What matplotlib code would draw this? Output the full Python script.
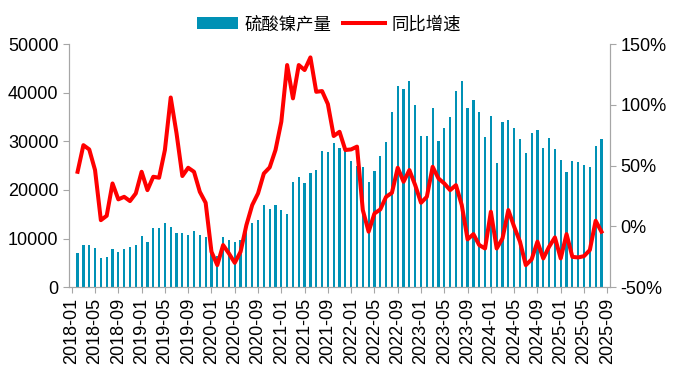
import numpy as np
import pandas as pd
import matplotlib
matplotlib.use('Agg')
import matplotlib.pyplot as plt
from matplotlib.ticker import FuncFormatter

plt.rcParams['font.family'] = ['Liberation Sans', 'Noto Sans CJK SC', 'DejaVu Sans']

# monthly axis 2018-01 .. 2025-09, data from 2018-02 .. 2025-08
months = pd.date_range('2018-01-01', '2025-09-01', freq='MS').strftime('%Y-%m').tolist()

production = [7100, 8600, 8600, 8100, 6000, 6200, 7800, 7200, 7800, 8200,
              8600, 10500, 9300, 12100, 12100, 13200, 12400, 11100, 11100, 10700,
              11500, 10700, 10300, 8200, 6400, 10300, 9700, 9300, 9700, 11300,
              13200, 13800, 16900, 16000, 16900, 15800, 15000, 21600, 22600, 21400,
              23500, 24100, 28000, 27800, 29600, 28600, 28200, 25900, 24900, 24700,
              21600, 23900, 27000, 29800, 36000, 41400, 40700, 42400, 37500, 31100,
              31100, 36800, 30000, 32700, 35000, 40300, 42400, 36800, 38500, 36000,
              30900, 35200, 25500, 34000, 34400, 32700, 30500, 27600, 31700, 32300,
              28600, 30700, 28400, 26100, 23700, 25900, 25700, 25100, 24700, 29000, 30500]

yoy_pct = [44.9, 66.8, 63.3, 46.3, 5.1, 8.7, 35.3, 22.2, 24.3, 20.8,
           27.1, 44.9, 29.8, 40.8, 40.0, 62.8, 106.0, 76.5, 41.4, 48.2,
           44.9, 28.4, 19.4, -20.9, -31.9, -15.4, -22.3, -30.0, -20.9, 1.0,
           17.5, 27.1, 43.5, 48.5, 62.8, 86.1, 132.7, 105.3, 132.7, 128.6,
           139.0, 110.7, 111.3, 100.6, 74.3, 77.8, 62.8, 63.3, 65.6, 13.4,
           -4.4, 10.6, 13.9, 24.3, 27.6, 48.2, 36.7, 46.3, 33.9, 19.4,
           24.3, 49.0, 39.4, 35.3, 29.8, 33.9, 17.5, -10.7, -6.4, -15.4,
           -18.2, 12.0, -18.2, -9.9, 13.4, -0.3, -12.6, -31.9, -27.2, -12.6,
           -26.4, -16.8, -9.1, -26.4, -6.4, -25.1, -25.6, -24.5, -19.5, 4.6, -4.4]

x = np.arange(1, len(production) + 1)
tick_pos = np.arange(0, len(months), 4)
tick_labels = [months[i] for i in tick_pos]

fig = plt.figure(figsize=(6.75, 3.7), dpi=100)
ax = fig.add_axes([0.102, 0.224, 0.802, 0.657])
ax2 = ax.twinx()

bars = ax.bar(x, production, width=0.38, color='#0091B5', label='硫酸镍产量', zorder=2)
line, = ax2.plot(x, np.array(yoy_pct) / 100, color='#FF0000', linewidth=2.9,
                 label='同比增速', solid_joinstyle='round')

ax.set_xlim(-0.5, 92.5)
ax.set_ylim(0, 50000)
ax.set_yticks(range(0, 50001, 10000))
ax2.set_ylim(-0.5, 1.5)
ax2.set_yticks([-0.5, 0, 0.5, 1.0, 1.5])
ax2.yaxis.set_major_formatter(FuncFormatter(lambda v, p: f'{v * 100:.0f}%'))

ax.set_xticks(tick_pos)
ax.set_xticklabels(tick_labels, rotation=90)

gray = '#A6A6A6'
for a in (ax, ax2):
    a.spines['top'].set_visible(False)
    for s in ('left', 'right', 'bottom'):
        a.spines[s].set_color(gray)
    a.tick_params(colors=gray, labelcolor='black', labelsize=13, length=4)

fig.legend([bars, line], ['硫酸镍产量', '同比增速'], loc='upper center',
           bbox_to_anchor=(0.487, 1.0), ncol=2, frameon=False, fontsize=12.5,
           handlelength=2.4, columnspacing=0.7, handletextpad=0.35)

fig.savefig('out.png', dpi=100)
